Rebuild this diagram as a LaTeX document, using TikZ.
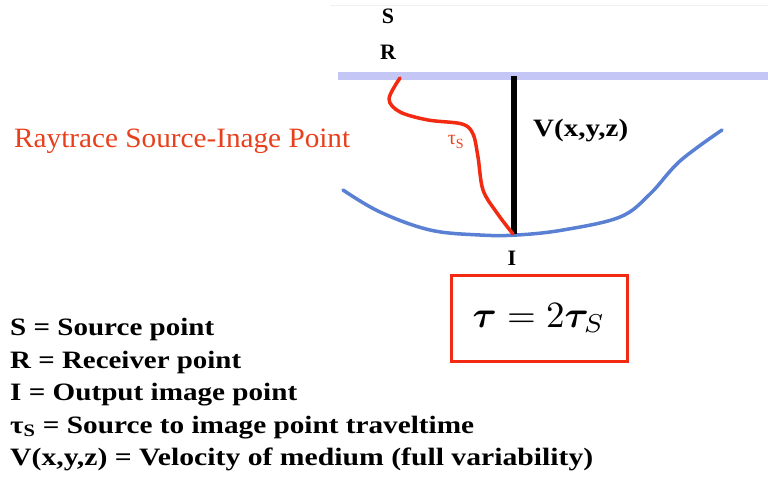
\documentclass[tikz,border=0pt]{standalone}
\usepackage{bm}
\usepackage{fontspec}
\setmainfont{Liberation Serif}
\definecolor{surf}{HTML}{C4C6F6}
\definecolor{rayred}{HTML}{F22A12}
\definecolor{txtred}{HTML}{E8401C}
\definecolor{reflblue}{HTML}{5A80D4}
\newcommand\fitw[2]{\resizebox{#1}{\height}{#2}}
\newcommand\formulatext{$\bm{\tau} = 2\bm{\tau}_S$}
\begin{document}
\begin{tikzpicture}[x=1pt,y=-1pt,
  lbl/.style={font=\fontsize{22}{22}\selectfont\bfseries, inner sep=0pt},
  leg/.style={font=\fontsize{25}{25}\selectfont\bfseries, inner sep=0pt, anchor=base west},
  ray/.style={rayred, line width=3.5pt, line cap=round, line join=round},
  refl/.style={reflblue, line width=3.5pt, line cap=round},
  vline/.style={black, line width=6pt},
  surface/.style={surf, line width=8pt}]
\useasboundingbox (0,0) rectangle (768,484);
\fill[white] (0,0) rectangle (768,484);
\draw[black!6, line width=1pt] (330,6) -- (768,6);
% surface
\coordinate (s0) at (338,76);
\coordinate (s1) at (768,76);
\draw[surface] (s0) -- (s1);
% labels S R
\node[lbl, anchor=base] (S) at (388,24) {S};
\node[lbl, anchor=base] (R) at (388,60) {R};
% reflector
\draw[refl] plot[smooth, tension=0.6] coordinates {(343,190) (380,212) (430,230) (480,235) (517,235) (563,230) (620,217) (650,194) (680,161) (722,130)};
% vertical line
\coordinate (top) at (514,76);
\coordinate (I) at (514,234);
\draw[vline] (top) -- (I);
% ray
\draw[ray] plot[smooth, tension=0.55] coordinates {(400,78) (389,99) (400,112) (428,120) (462,124) (473,134) (478,157) (483,190) (497,213) (513,234)};
\node[text=txtred, font=\fontsize{20}{20}\selectfont, inner sep=0pt, anchor=base] (tauS) at (456,145) {τ\textsubscript{S}};
\node[lbl, anchor=base] (Ilbl) at (512,265) {I};
\node[font=\fontsize{25}{25}\selectfont\bfseries, inner sep=0pt, anchor=base west] (V) at (533,137) {\fitw{95pt}{V(x,y,z)}};
\node[text=txtred, font=\fontsize{28}{28}\selectfont, inner sep=0pt, anchor=base west] (ray) at (14,147) {\fitw{336pt}{Raytrace Source-Inage Point}};
% formula box
\node[draw=rayred, line width=3pt, minimum width=176pt, minimum height=86pt, inner sep=0pt] (box) at (539,318) {\scalebox{3.7}{\formulatext}};
% legend
\node[leg] (l1) at (10,335) {\fitw{204pt}{S = Source point}};
\node[leg] (l2) at (10,368) {\fitw{231pt}{R = Receiver point}};
\node[leg] (l3) at (10,400) {\fitw{287pt}{I = Output image point}};
\node[leg] (l4) at (10,433) {\fitw{464pt}{τ\textsubscript{S} = Source to image point traveltime}};
\node[leg] (l5) at (10,465) {\fitw{583pt}{V(x,y,z) = Velocity of medium (full variability)}};
\end{tikzpicture}
\end{document}
